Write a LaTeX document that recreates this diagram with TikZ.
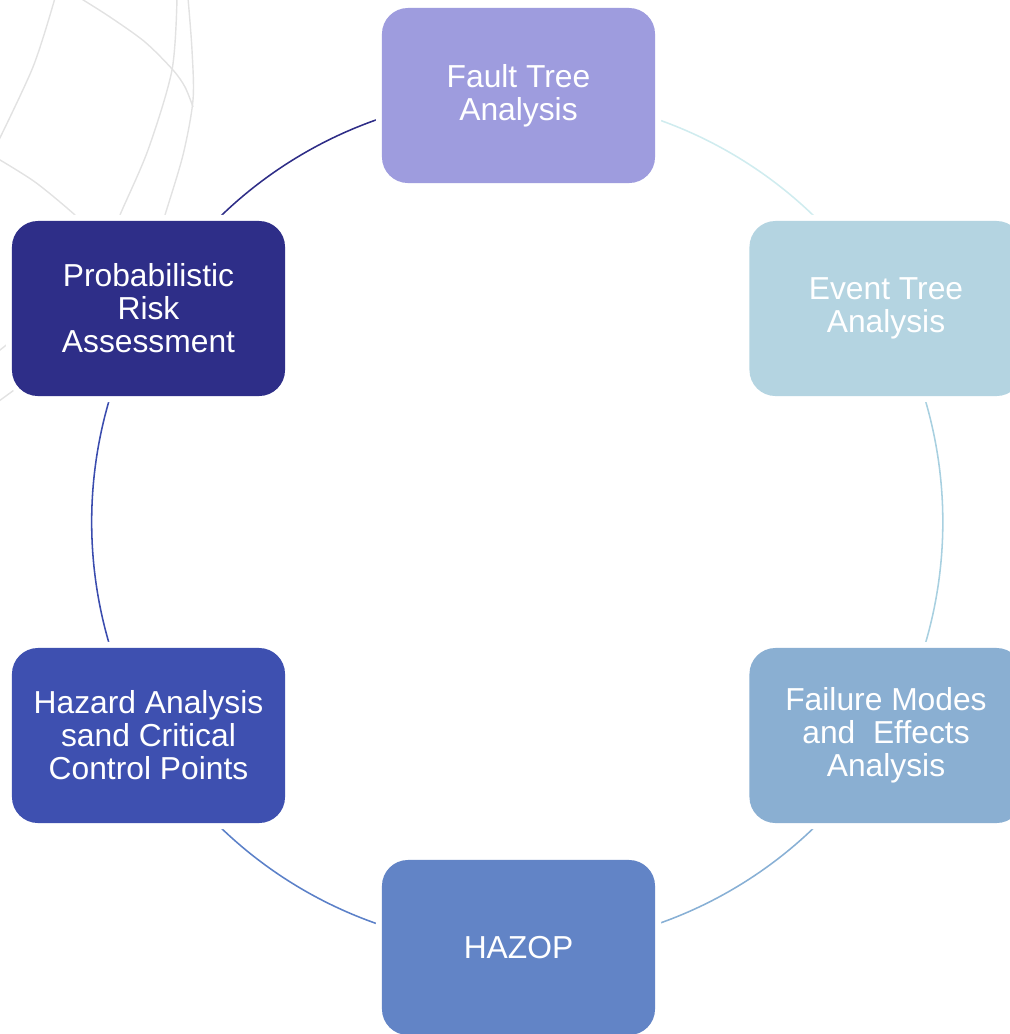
\documentclass[tikz,border=0pt]{standalone}
\usepackage{fontspec}
\setmainfont{Liberation Sans}
\usepackage{xcolor}
\usepackage{tikz}
\usetikzlibrary{backgrounds}
\definecolor{ftacol}{HTML}{9E9CDE}
\definecolor{etacol}{HTML}{B4D4E1}
\definecolor{fmeacol}{HTML}{8AAFD2}
\definecolor{hazopcol}{HTML}{6284C6}
\definecolor{haccpcol}{HTML}{3E50B0}
\definecolor{pracol}{HTML}{2E2E88}
\definecolor{ftaeta}{HTML}{D0ECEF}
\definecolor{etafmea}{HTML}{A8D0E0}
\definecolor{fmeahazop}{HTML}{88B0D5}
\definecolor{hazophaccp}{HTML}{5B80C8}
\definecolor{haccppra}{HTML}{3A4CAE}
\definecolor{prafta}{HTML}{2E2D87}
\definecolor{decocol}{HTML}{E2E2E2}

\begin{document}
\begin{tikzpicture}[x=0.025cm,y=-0.025cm]
%
\tikzstyle{blk}=[shape=rectangle,rounded corners=0.65cm,minimum width=6.825cm,minimum height=4.375cm,align=center,text=white,font=\fontsize{22.6}{23.4}\selectfont,preaction={draw=white,line width=0.3cm}]
\tikzstyle{lnk}=[line width=1.1pt]
\tikzstyle{bgl}=[draw=decocol,line width=1pt]
%
\useasboundingbox (0,0) rectangle (1010,1034);
%
\node[blk,fill=ftacol](fta) at (518.5,95.5){Fault Tree\\Analysis};
\node[blk,fill=etacol](eta) at (886,308.5){Event Tree\\Analysis};
\node[blk,fill=fmeacol](fmea) at (886,735.5){Failure Modes\\and\ \ Effects\\Analysis};
\node[blk,fill=hazopcol](hazop) at (518.5,947.5){HAZOP};
\node[blk,fill=haccpcol](haccp) at (148.5,735.5){Hazard Analysis\\sand Critical\\Control Points};
\node[blk,fill=pracol](pra) at (148.5,308.5){Probabilistic\\Risk\\Assessment};
%
\begin{pgfonlayer}{background}
% decoration
\draw[bgl] plot[smooth] coordinates {(80,-2) (110,17) (145,42) (173,70) (185,87) (193,107)};
\draw[bgl] plot[smooth] coordinates {(188,-2) (192,50) (193,100) (183,155) (165,215) (160,232)};
\draw[bgl] plot[smooth] coordinates {(177,-2) (172,70) (148,150) (120,215) (115,232)};
\draw[bgl] plot[smooth] coordinates {(55,-2) (33,67) (-5,148)};
\draw[bgl] plot[smooth] coordinates {(-5,157) (35,182) (75,215) (88,230)};
\draw[bgl] (-5,354) -- (20,334);
\draw[bgl] (-5,404) -- (25,382);
% ring
\draw[lnk,draw=ftaeta] (fta.center) to[bend left=30,looseness=0.91] (eta.center);
\draw[lnk,draw=etafmea] (eta.center) to[bend left=30,looseness=0.91] (fmea.center);
\draw[lnk,draw=fmeahazop] (fmea.center) to[bend left=30,looseness=0.91] (hazop.center);
\draw[lnk,draw=hazophaccp] (hazop.center) to[bend left=30,looseness=0.91] (haccp.center);
\draw[lnk,draw=haccppra] (haccp.center) to[bend left=30,looseness=0.91] (pra.center);
\draw[lnk,draw=prafta] (pra.center) to[bend left=30,looseness=0.91] (fta.center);
\end{pgfonlayer}
\end{tikzpicture}
\end{document}
